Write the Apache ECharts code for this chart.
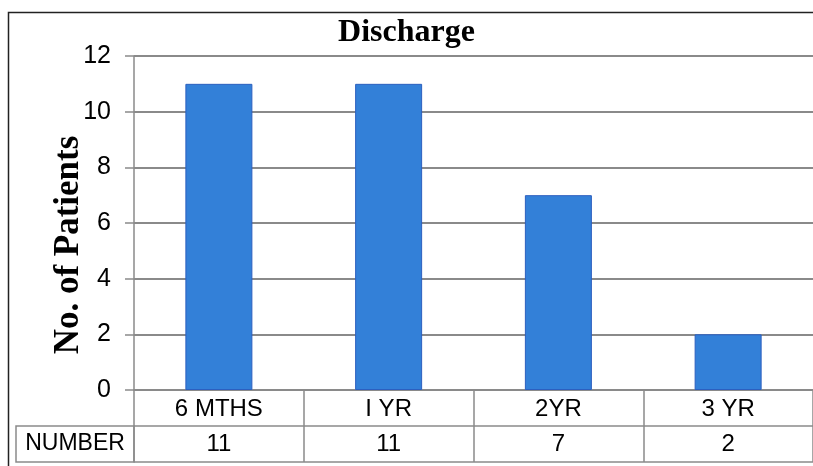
<!DOCTYPE html>
<html>
<head>
<meta charset="utf-8">
<script src="https://cdn.jsdelivr.net/npm/echarts@6/dist/echarts.min.js"></script>
<style>
  html, body { margin: 0; padding: 0; background: #fff; overflow: hidden; }
  #chart { width: 813px; height: 466px; }
</style>
</head>
<body>
<div id="chart"></div>
<script>
// Discharge follow-up: patients per period
const categories = ['6 MTHS', 'I YR', '2YR', '3 YR'];
const patients = [11, 11, 7, 2];
const yTicks = { min: 0, max: 12, interval: 2 };
const rowLabel = 'NUMBER';

const GRID = { left: 134, right: 0, top: 56, bottom: 76 };
const ROW_H = 36;
const LINE = '#8a8a8a';
const SANS = '"Liberation Sans", Arial, sans-serif';
const SERIF = '"Liberation Serif", "Times New Roman", serif';

const chart = echarts.init(document.getElementById('chart'));

const plotBottom = 466 - GRID.bottom;

chart.setOption({
  animation: false,
  backgroundColor: '#fff',
  title: {
    text: 'Discharge',
    left: 'center',
    top: 12,
    textStyle: { fontFamily: SERIF, fontWeight: 'bold', fontSize: 32, color: '#000' }
  },
  grid: GRID,
  xAxis: [
    {
      type: 'category',
      data: categories,
      position: 'bottom',
      axisLine: { lineStyle: { color: LINE, width: 1.5 } },
      axisTick: { show: true, interval: 0, length: ROW_H * 2, lineStyle: { color: LINE, width: 1.5 } },
      axisLabel: { interval: 0, color: '#000', fontFamily: SANS, fontSize: 24, verticalAlign: 'middle', margin: 19 }
    },
    {
      type: 'category',
      data: categories,
      position: 'bottom',
      offset: ROW_H,
      axisLine: { lineStyle: { color: LINE, width: 1.5 } },
      axisTick: { show: false },
      axisLabel: {
        interval: 0, color: '#000', fontFamily: SANS, fontSize: 24, verticalAlign: 'middle', margin: 18,
        formatter: (v, i) => String(patients[i])
      }
    },
    {
      type: 'category',
      data: categories,
      position: 'bottom',
      offset: ROW_H * 2,
      axisLine: { lineStyle: { color: LINE, width: 1.5 } },
      axisTick: { show: false },
      axisLabel: { show: false }
    }
  ],
  yAxis: {
    type: 'value',
    min: yTicks.min,
    max: yTicks.max,
    interval: yTicks.interval,
    axisLine: { show: true, lineStyle: { color: LINE, width: 1.5 } },
    axisTick: { show: true, length: 9, lineStyle: { color: LINE, width: 1.5 } },
    axisLabel: { color: '#000', fontFamily: SANS, fontSize: 25, margin: 23 },
    splitLine: { show: true, lineStyle: { color: LINE, width: 2 } }
  },
  series: [{
    type: 'bar',
    xAxisIndex: 0,
    data: patients,
    barWidth: 67,
    itemStyle: { color: '#3380d8', borderColor: '#2c5fbf', borderWidth: 1 }
  }],
  graphic: [
    // outer frame: top and left edges (the rest runs past the canvas)
    {
      type: 'polyline',
      silent: true,
      shape: { points: [[8.5, 466], [8.5, 12.5], [813, 12.5]] },
      style: { fill: 'none', stroke: '#222', lineWidth: 1.5 }
    },
    {
      type: 'text',
      silent: true,
      x: 69, y: 245,
      rotation: Math.PI / 2,
      style: {
        text: 'No. of Patients',
        font: 'bold 35px ' + SERIF,
        fill: '#000',
        align: 'center',
        verticalAlign: 'middle'
      }
    },
    {
      type: 'rect',
      silent: true,
      shape: { x: 16, y: plotBottom + ROW_H, width: GRID.left - 16, height: ROW_H },
      style: { fill: 'none', stroke: LINE, lineWidth: 1.5 }
    },
    {
      type: 'text',
      silent: true,
      x: (16 + GRID.left) / 2, y: plotBottom + ROW_H * 1.5,
      style: {
        text: rowLabel,
        font: '23px ' + SANS,
        fill: '#000',
        align: 'center',
        verticalAlign: 'middle'
      }
    }
  ]
});
</script>
</body>
</html>
